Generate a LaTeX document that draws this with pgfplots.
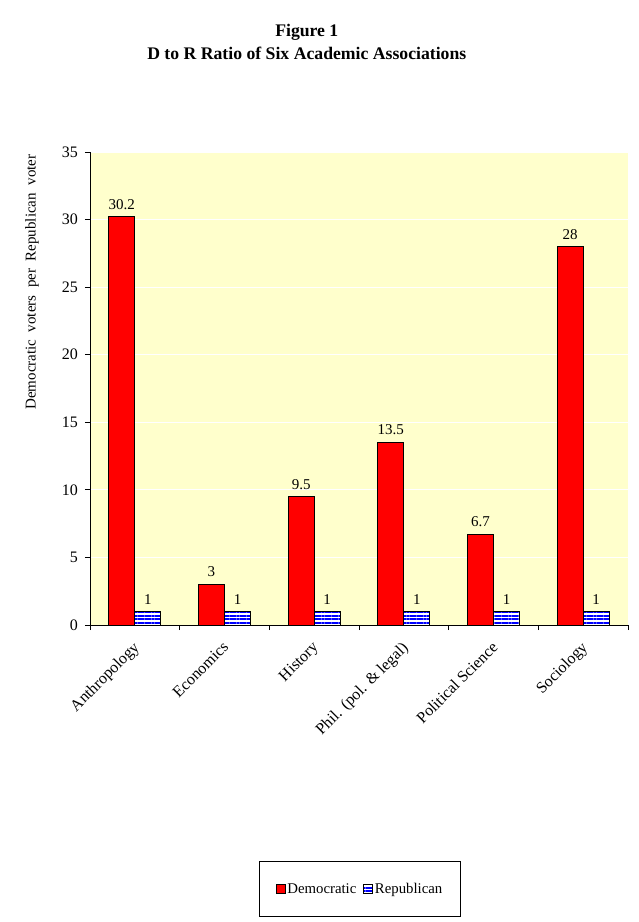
\documentclass[border=0pt]{standalone}
\usepackage{pgfplots}
\pgfplotsset{compat=1.18}
\usepackage{fontspec}
\setmainfont{Liberation Serif}
\usetikzlibrary{patterns.meta}
\definecolor{bgyellow}{HTML}{FFFFCC}
\begin{document}
\begin{tikzpicture}
\useasboundingbox (-90bp,-297bp) rectangle (549bp,625bp);
\begin{axis}[
  at={(0,0)}, anchor=south west,
  scale only axis, width=538bp, height=473bp,
  xmin=-0.5, xmax=5.5, ymin=0, ymax=35,
  /pgf/number format/assume math mode=true,
  axis x line*=bottom, axis y line*=left,
  axis line style={-, black, line width=0.8bp},
  axis background/.style={fill=bgyellow},
  ytick={0,5,...,35},
  ymajorgrids, grid style={white, line width=0.8bp},
  xtick={0,...,5},
  xticklabels={Anthropology,Economics,History,{Phil. (pol. \& legal)},Political Science,Sociology},
  minor xtick={-0.5,0.5,...,5.5},
  tick align=outside,
  major tick length=5bp, minor tick length=5bp,
  x tick style={draw=none},
  minor x tick style={draw=black, line width=0.8bp},
  y tick style={black, line width=0.8bp},
  tick label style={font=\fontsize{16bp}{18bp}\selectfont},
  yticklabel style={inner sep=3bp, xshift=-4bp},
  xticklabel style={rotate=45, anchor=north east, inner sep=1bp, xshift=-8.3bp, yshift=-4.4bp},
  ylabel={Democratic\ \ voters\ \ per\ \ Republican\ \ voter},
  ylabel style={at={(axis description cs:-0.108,0.725)}, anchor=center, font=\fontsize{15bp}{17bp}\selectfont},
  title={Figure 1\\D to R Ratio of Six Academic Associations},
  title style={at={(axis description cs:0.403,1.220)}, anchor=center, align=center, font=\bfseries\fontsize{17.7bp}{23bp}\selectfont},
  ybar=0pt,
  bar width=0.29,
  nodes near coords,
  every node near coord/.append style={font=\fontsize{15bp}{17bp}\selectfont, inner sep=2bp, yshift=5bp},
  legend columns=2,
  legend style={at={(axis description cs:0.502,-0.558)}, anchor=center, draw=black, line width=0.8bp,
    font=\fontsize{14.8bp}{17bp}\selectfont, inner xsep=16bp, inner ysep=19.5bp,
    /tikz/every even column/.append style={column sep=5bp}},
  legend image code/.code={\draw[#1, line width=0.6bp] (0bp,-4.5bp) rectangle (9bp,4.5bp);},
]
\addplot[fill=red, draw=black, line width=0.8bp] coordinates {
  (0,30.2) (1,3) (2,9.5) (3,13.5) (4,6.7) (5,28)};
\addlegendentry{Democratic}
\addplot[fill=white, draw=black, line width=0.8bp,
  postaction={pattern={Lines[angle=0, distance=3.4bp, line width=1.8bp]}, pattern color=blue}] coordinates {
  (0,1) (1,1) (2,1) (3,1) (4,1) (5,1)};
\addlegendentry{Republican}
\end{axis}
\end{tikzpicture}
\end{document}
